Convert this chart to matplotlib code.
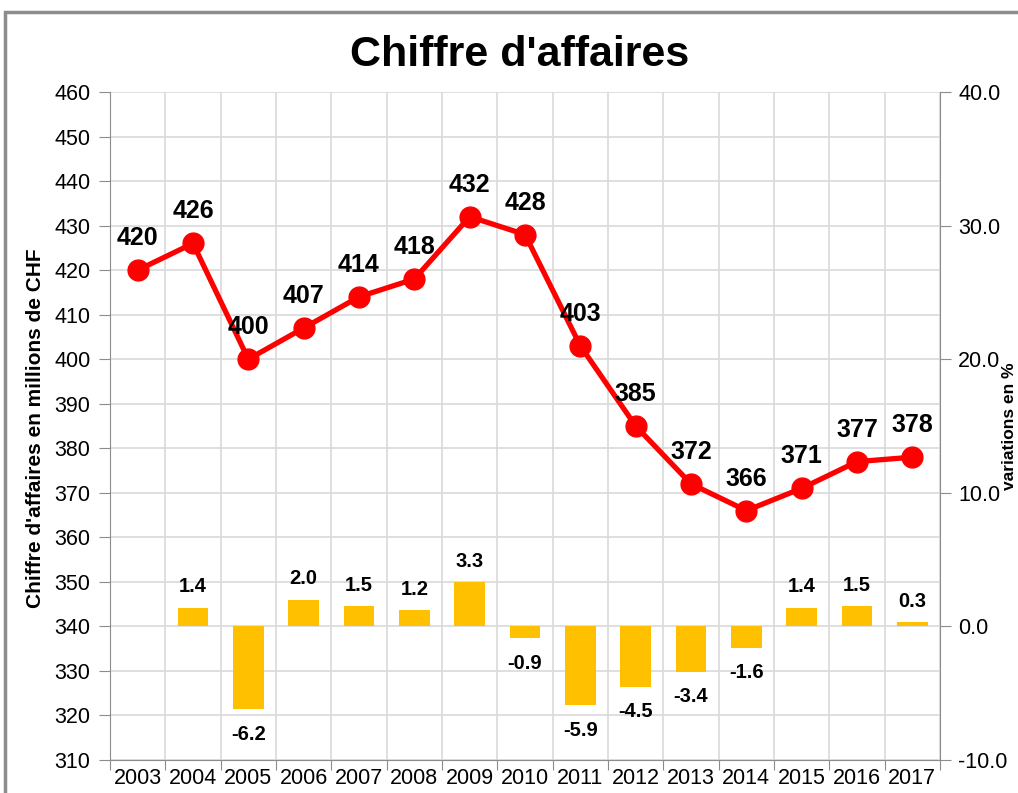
import matplotlib
matplotlib.use("Agg")
import matplotlib.pyplot as plt
from matplotlib.patches import Rectangle
from matplotlib.transforms import blended_transform_factory

plt.rcParams['font.family'] = ['Liberation Sans', 'DejaVu Sans']

years = ['2003', '2004', '2005', '2006', '2007', '2008', '2009', '2010',
         '2011', '2012', '2013', '2014', '2015', '2016', '2017']
revenue = [420, 426, 400, 407, 414, 418, 432, 428, 403, 385, 372, 366, 371, 377, 378]
variation = [None, 1.4, -6.2, 2.0, 1.5, 1.2, 3.3, -0.9, -5.9, -4.5, -3.4, -1.6, 1.4, 1.5, 0.3]

W, H = 1018, 793
fig = plt.figure(figsize=(W / 100, H / 100), dpi=100)
fig.patch.set_facecolor('white')

# outer frame (cropped at right/bottom)
fig.patches.append(Rectangle((5 / W, -0.1), 1.2, (H - 12) / H + 0.1, transform=fig.transFigure,
                             fill=False, edgecolor='#8c8c8c', linewidth=2.5))

left, right, top, bottom = 110, 940, 92, 760
ax = fig.add_axes([left / W, 1 - bottom / H, (right - left) / W, (bottom - top) / H])
ax2 = ax.twinx()

n = len(years)
xs = list(range(n))

ax.set_xlim(-0.5, n - 0.5)
ax.set_ylim(310, 460)
ax2.set_ylim(-10, 40)

# gridlines drawn in the lower (bar) axes so they stay behind bars
tr_h = blended_transform_factory(ax2.transAxes, ax.transData)
tr_v = blended_transform_factory(ax.transData, ax2.transAxes)
for yv in range(310, 461, 10):
    ax2.plot([0, 1], [yv, yv], transform=tr_h, color='#d9d9d9', linewidth=1.2, zorder=0)
for i in range(n + 1):
    ax2.plot([i - 0.5, i - 0.5], [0, 1], transform=tr_v, color='#d9d9d9', linewidth=1.2, zorder=0)

# bars on the secondary axis
bx = [x for x, v in zip(xs, variation) if v is not None]
bv = [v for v in variation if v is not None]
ax2.bar(bx, bv, width=0.56, color='#FFC000', zorder=2)
for x, v in zip(bx, bv):
    if v >= 0:
        ax2.annotate(f'{v:.1f}', (x, v), xytext=(0, 11), textcoords='offset points',
                     ha='center', va='baseline', fontsize=14.5, fontweight='bold', zorder=5)
    else:
        ax2.annotate(f'{v:.1f}', (x, v), xytext=(0, -22), textcoords='offset points',
                     ha='center', va='baseline', fontsize=14.5, fontweight='bold', zorder=5)

# line on top
ax2.set_zorder(1)
ax.set_zorder(2)
ax.patch.set_visible(False)
ax.plot(xs, revenue, color='#FF0000', linewidth=3.8, marker='o', markersize=15,
        markerfacecolor='#FF0000', markeredgecolor='#FF0000', zorder=3)
for x, v in zip(xs, revenue):
    ax.annotate(f'{v}', (x, v), xytext=(0, 18), textcoords='offset points',
                ha='center', va='baseline', fontsize=18, fontweight='bold')

# axes styling
ax.set_yticks(range(310, 461, 10))
ax2.set_yticks(range(-10, 41, 10))
ax2.set_yticklabels([f'{v:.1f}' for v in range(-10, 41, 10)])
ax.set_xticks([i - 0.5 for i in range(n + 1)], minor=False)
ax.set_xticklabels([])
ax.set_xticks(xs, minor=True)
ax.set_xticklabels(years, minor=True)
ax.tick_params(axis='x', which='major', length=7, color='#8c8c8c', direction='out')
ax.tick_params(axis='x', which='minor', length=0, labelsize=15.5, pad=6)
ax.tick_params(axis='y', length=8, color='#8c8c8c', labelsize=15.5, pad=6)
ax2.tick_params(axis='y', length=8, color='#8c8c8c', labelsize=15.5, pad=5)

for a in (ax, ax2):
    for s in a.spines.values():
        s.set_visible(False)
ax.spines['left'].set_visible(True)
ax.spines['left'].set_color('#8c8c8c')
ax.spines['bottom'].set_visible(True)
ax.spines['bottom'].set_color('#8c8c8c')
ax2.spines['right'].set_visible(True)
ax2.spines['right'].set_color('#8c8c8c')

fig.text(520 / W, 1 - 55 / H, "Chiffre d'affaires", ha='center', va='center',
         fontsize=31, fontweight='bold')
fig.text(36 / W, 1 - 428 / H, "Chiffre d'affaires en millions de CHF", rotation=90,
         ha='center', va='center', fontsize=15, fontweight='bold')
fig.text(1010 / W, 1 - 426 / H, "variations en %", rotation=90,
         ha='center', va='center', fontsize=12.5, fontweight='bold')

fig.savefig('out.png', dpi=100)
